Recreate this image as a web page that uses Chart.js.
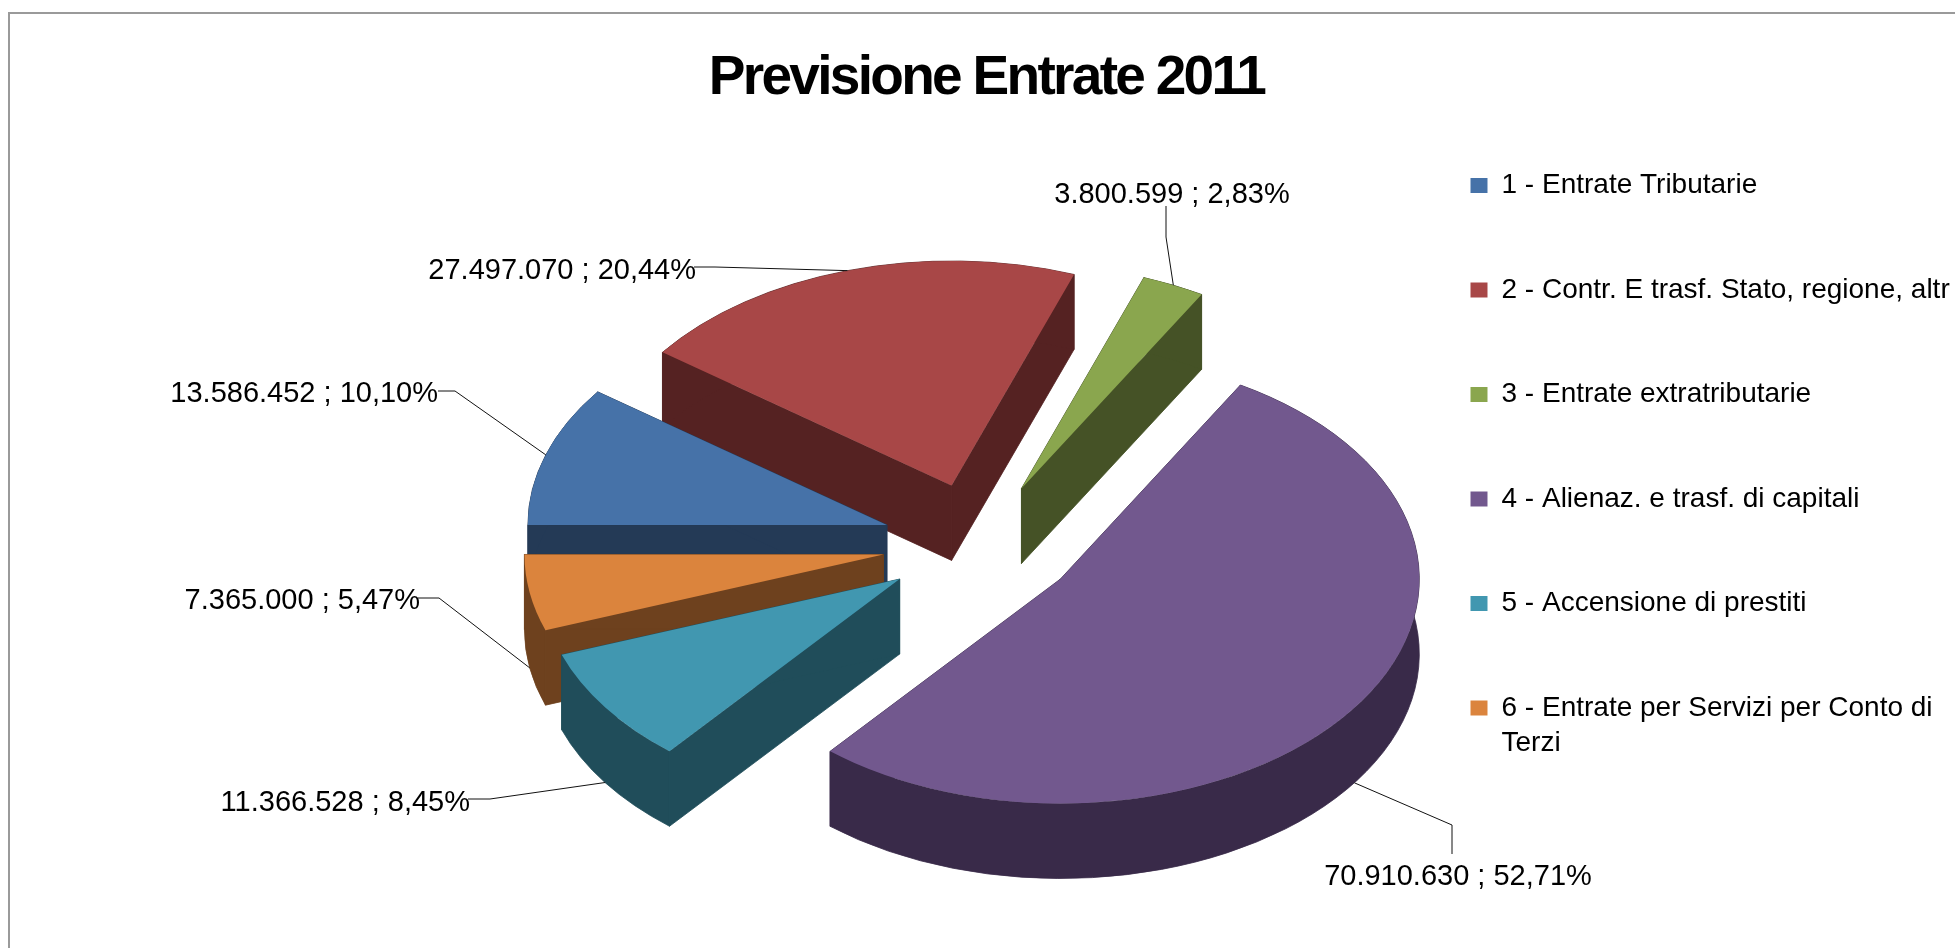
<!DOCTYPE html>
<html lang="it">
<head>
    <meta charset="UTF-8">
    <title>Previsione Entrate 2011</title>
    <style>
        html, body {
            margin: 0;
            padding: 0;
            background: #fff;
            overflow: hidden;
        }

        #frame {
            position: absolute;
            left: 8px;
            top: 12px;
            width: 2100px;
            height: 1100px;
            border: 2px solid #9a9a9a;
        }

        #chart {
            position: absolute;
            left: 0;
            top: 0;
        }
    </style>
    <script src="https://cdn.jsdelivr.net/npm/chart.js"></script>
</head>
<body>
    <div id="frame"></div>
    <canvas id="chart" width="1955" height="948"></canvas>
    <script>
        const categories = [
            '1 - Entrate Tributarie',
            '2 - Contr. E trasf. Stato, regione, altr',
            '3 - Entrate extratributarie',
            '4 - Alienaz. e trasf. di capitali',
            '5 - Accensione di prestiti',
            ['6 - Entrate per Servizi per Conto di', 'Terzi']
        ];
        const values = [13586452, 27497070, 3800599, 70910630, 11366528, 7365000];
        const topColors = ['#4672A8', '#A84747', '#8AA64E', '#72588E', '#4197B0', '#DB843D'];
        const sideColors = ['#243A56', '#552222', '#455226', '#392A49', '#204D5A', '#6E411E'];

        // back to front, so the nearer slices cover the walls of the others
        const drawOrder = [1, 2, 0, 5, 4, 3];

        // page position of the pie and its fake 3D look
        const pieX = 980;
        const pieY = 544;
        const pieRadius = 359;
        const squash = 0.625;
        const explode = 98;
        const depth = 75;

        // label text anchor, then the leader line points up to the rim
        const labelLayout = [
            {x: 438, y: 393.5, align: 'right', line: [[438, 391], [455, 391]]},
            {x: 696, y: 270.5, align: 'right', line: [[694, 267], [715, 267]]},
            {x: 1172, y: 194.5, align: 'center', line: [[1166, 206], [1166, 237]]},
            {x: 1458, y: 877, align: 'center', line: [[1452, 854], [1452, 825]]},
            {x: 470, y: 802.5, align: 'right', line: [[468, 799], [490, 799]]},
            {x: 420, y: 600.5, align: 'right', line: [[418, 598], [439, 598]]}
        ];

        const total = values.reduce((a, b) => a + b, 0);

        function labelText(v) {
            const pct = (v / total * 100).toFixed(2).replace('.', ',');
            return v.toLocaleString('it-IT') + ' ; ' + pct + '%';
        }

        // walls of one slice, in the squashed space of the pie
        function drawSides(ctx, arc, color) {
            const h = depth / squash;
            const x = arc.x, y = arc.y, r = arc.outerRadius;
            const a0 = arc.startAngle, a1 = arc.endAngle;
            ctx.fillStyle = color;
            ctx.strokeStyle = color;
            ctx.lineWidth = 1;
            [a0, a1].forEach(a => {
                ctx.beginPath();
                ctx.moveTo(x, y);
                ctx.lineTo(x + Math.cos(a) * r, y + Math.sin(a) * r);
                ctx.lineTo(x + Math.cos(a) * r, y + Math.sin(a) * r + h);
                ctx.lineTo(x, y + h);
                ctx.closePath();
                ctx.fill();
                ctx.stroke();
            });
            ctx.beginPath();
            ctx.arc(x, y, r, a0, a1);
            ctx.arc(x, y + h, r, a1, a0, true);
            ctx.closePath();
            ctx.fill();
            ctx.stroke();
        }

        const fakePie3d = {
            id: 'fakePie3d',
            beforeDatasetDraw(chart) {
                const ctx = chart.ctx;
                const arcs = chart.getDatasetMeta(0).data;
                ctx.save();
                ctx.translate(pieX, pieY);
                ctx.scale(1, squash);
                ctx.translate(-arcs[0].x, -arcs[0].y);
                drawOrder.forEach(i => {
                    const arc = arcs[i];
                    const mid = (arc.startAngle + arc.endAngle) / 2;
                    ctx.save();
                    ctx.translate(Math.cos(mid) * explode, Math.sin(mid) * explode);
                    drawSides(ctx, arc, sideColors[i]);
                    arc.draw(ctx);
                    ctx.restore();
                });
                ctx.restore();

                // data labels and leader lines
                ctx.save();
                ctx.font = '29px "Liberation Sans"';
                ctx.textBaseline = 'middle';
                ctx.fillStyle = '#000';
                ctx.strokeStyle = '#111';
                ctx.lineWidth = 1;
                arcs.forEach((arc, i) => {
                    const mid = (arc.startAngle + arc.endAngle) / 2;
                    const reach = arc.outerRadius + explode;
                    const rimX = pieX + Math.cos(mid) * reach;
                    const rimY = pieY + Math.sin(mid) * reach * squash + (Math.sin(mid) > 0 ? depth : 0);
                    const layout = labelLayout[i];
                    ctx.beginPath();
                    layout.line.forEach((p, n) => n ? ctx.lineTo(p[0], p[1]) : ctx.moveTo(p[0], p[1]));
                    ctx.lineTo(rimX, rimY);
                    ctx.stroke();
                    ctx.textAlign = layout.align;
                    ctx.fillText(labelText(values[i]), layout.x, layout.y);
                });
                ctx.restore();
                return false;
            }
        };

        // Chart.js has no letter spacing option, so set it around the box draw
        function withSpacing(box, spacing) {
            const draw = box.draw;
            box.draw = function (area) {
                this.ctx.save();
                this.ctx.letterSpacing = spacing;
                draw.call(this, area);
                this.ctx.restore();
            };
        }

        const chart = new Chart(document.getElementById('chart'), {
            type: 'pie',
            data: {
                labels: categories,
                datasets: [{
                    data: values,
                    backgroundColor: topColors,
                    borderWidth: 0
                }]
            },
            options: {
                responsive: false,
                animation: false,
                rotation: 270,
                radius: pieRadius,
                layout: {padding: {left: 18}},
                plugins: {
                    tooltip: {enabled: false},
                    title: {
                        display: true,
                        text: 'Previsione Entrate 2011',
                        color: '#000',
                        font: {family: '"Liberation Sans"', size: 55, weight: 'bold', lineHeight: 1},
                        padding: {top: 51, bottom: -11}
                    },
                    legend: {
                        position: 'right',
                        align: 'start',
                        fullSize: false,
                        maxWidth: 561,
                        labels: {
                            color: '#000',
                            font: {family: '"Liberation Sans"', size: 28, lineHeight: 1.25},
                            boxWidth: 17,
                            boxHeight: 15,
                            padding: 76.5
                        }
                    }
                }
            },
            plugins: [fakePie3d]
        });
        withSpacing(chart.titleBlock, '-2.7px');
        chart.draw();
    </script>
</body>
</html>
